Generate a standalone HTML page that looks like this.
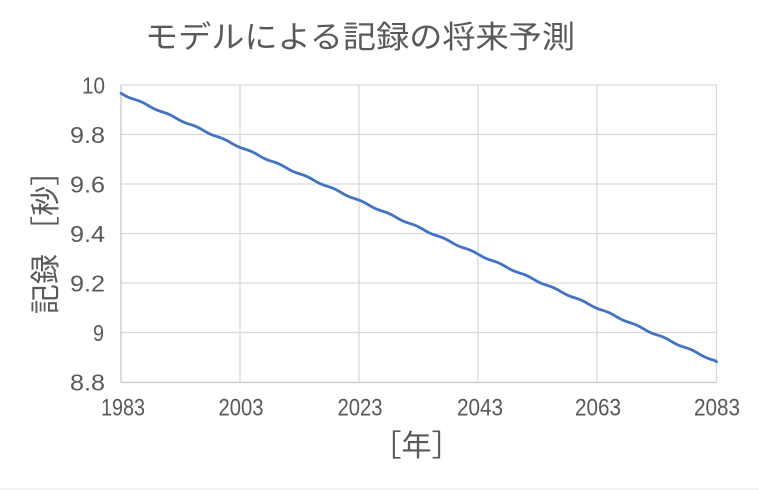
<!DOCTYPE html>
<html><head><meta charset="utf-8"><style>
html,body{margin:0;padding:0;background:#fff;}
svg{display:block;}
text{font-family:"Liberation Sans","Noto Sans CJK JP",sans-serif;fill:#595959;}
</style></head><body>
<svg width="759" height="490" viewBox="0 0 759 490" xmlns="http://www.w3.org/2000/svg">
<rect width="759" height="490" fill="#fff"/>
<!-- title -->
<text x="360" y="48" font-size="31" text-anchor="middle" font-family="'Noto Sans CJK JP',sans-serif" textLength="430" lengthAdjust="spacingAndGlyphs">モデルによる記録の将来予測</text>
<!-- gridlines -->
<g stroke="#d9d9d9" stroke-width="1.3" fill="none">
<line x1="121" y1="85" x2="716.5" y2="85"/>
<line x1="121" y1="134.5" x2="716.5" y2="134.5"/>
<line x1="121" y1="184" x2="716.5" y2="184"/>
<line x1="121" y1="233.5" x2="716.5" y2="233.5"/>
<line x1="121" y1="283" x2="716.5" y2="283"/>
<line x1="121" y1="332.5" x2="716.5" y2="332.5"/>
<line x1="240" y1="85" x2="240" y2="382.5"/>
<line x1="359" y1="85" x2="359" y2="382.5"/>
<line x1="478" y1="85" x2="478" y2="382.5"/>
<line x1="597" y1="85" x2="597" y2="382.5"/>
<line x1="716.5" y1="85" x2="716.5" y2="382.5"/>
</g>
<g stroke="#c8c8c8" stroke-width="1.3">
<line x1="121" y1="382.5" x2="716.5" y2="382.5"/>
<line x1="121" y1="85" x2="121" y2="382.5"/>
</g>
<!-- series -->
<polyline id="ser" fill="none" stroke="#4472C4" stroke-width="2.8" stroke-linejoin="round" stroke-linecap="round" points="121,93.3 716.5,361.7"/>
<!-- y labels -->
<g font-size="23" text-anchor="end">
<text x="105" y="93.5" textLength="23" lengthAdjust="spacingAndGlyphs">10</text>
<text x="105" y="143" textLength="35" lengthAdjust="spacingAndGlyphs">9.8</text>
<text x="105" y="192.5" textLength="35" lengthAdjust="spacingAndGlyphs">9.6</text>
<text x="105" y="242" textLength="35" lengthAdjust="spacingAndGlyphs">9.4</text>
<text x="105" y="291.5" textLength="35" lengthAdjust="spacingAndGlyphs">9.2</text>
<text x="104" y="341" textLength="11" lengthAdjust="spacingAndGlyphs">9</text>
<text x="105" y="390.5" textLength="35" lengthAdjust="spacingAndGlyphs">8.8</text>
</g>
<!-- x labels -->
<g font-size="24.5" text-anchor="middle">
<text x="123" y="415.5" textLength="44" lengthAdjust="spacingAndGlyphs">1983</text>
<text x="241" y="415.5" textLength="45" lengthAdjust="spacingAndGlyphs">2003</text>
<text x="360" y="415.5" textLength="45" lengthAdjust="spacingAndGlyphs">2023</text>
<text x="480" y="415.5" textLength="46" lengthAdjust="spacingAndGlyphs">2043</text>
<text x="598" y="415.5" textLength="46" lengthAdjust="spacingAndGlyphs">2063</text>
<text x="717" y="415.5" textLength="46" lengthAdjust="spacingAndGlyphs">2083</text>
</g>
<!-- axis titles -->
<text x="416.5" y="456" font-size="30" text-anchor="middle" font-family="'Noto Sans CJK JP',sans-serif">［年］</text>
<text transform="translate(56,235) rotate(-90)" x="0" y="0" font-size="30" text-anchor="middle" font-family="'Noto Sans CJK JP',sans-serif">記録 ［秒］</text>
<!-- bottom faint cell line -->
<g stroke="#e6e6e6" stroke-width="1">
<line x1="0" y1="489" x2="759" y2="489"/>
</g>
<script>
(function(){
var pts=[];var x0=121,x1=716.5,y0=93.3,y1=361.7;
for(var x=x0;x<=x1+0.01;x+=2){
var t=(x-x0)/(x1-x0);
var y=y0+(y1-y0)*t+0.6*Math.sin(2*Math.PI*(x-x0)/27.5);
pts.push(x.toFixed(1)+","+y.toFixed(2));
}
pts.push(x1+","+y1);
document.getElementById("ser").setAttribute("points",pts.join(" "));
})();
</script>
</svg>
</body></html>
